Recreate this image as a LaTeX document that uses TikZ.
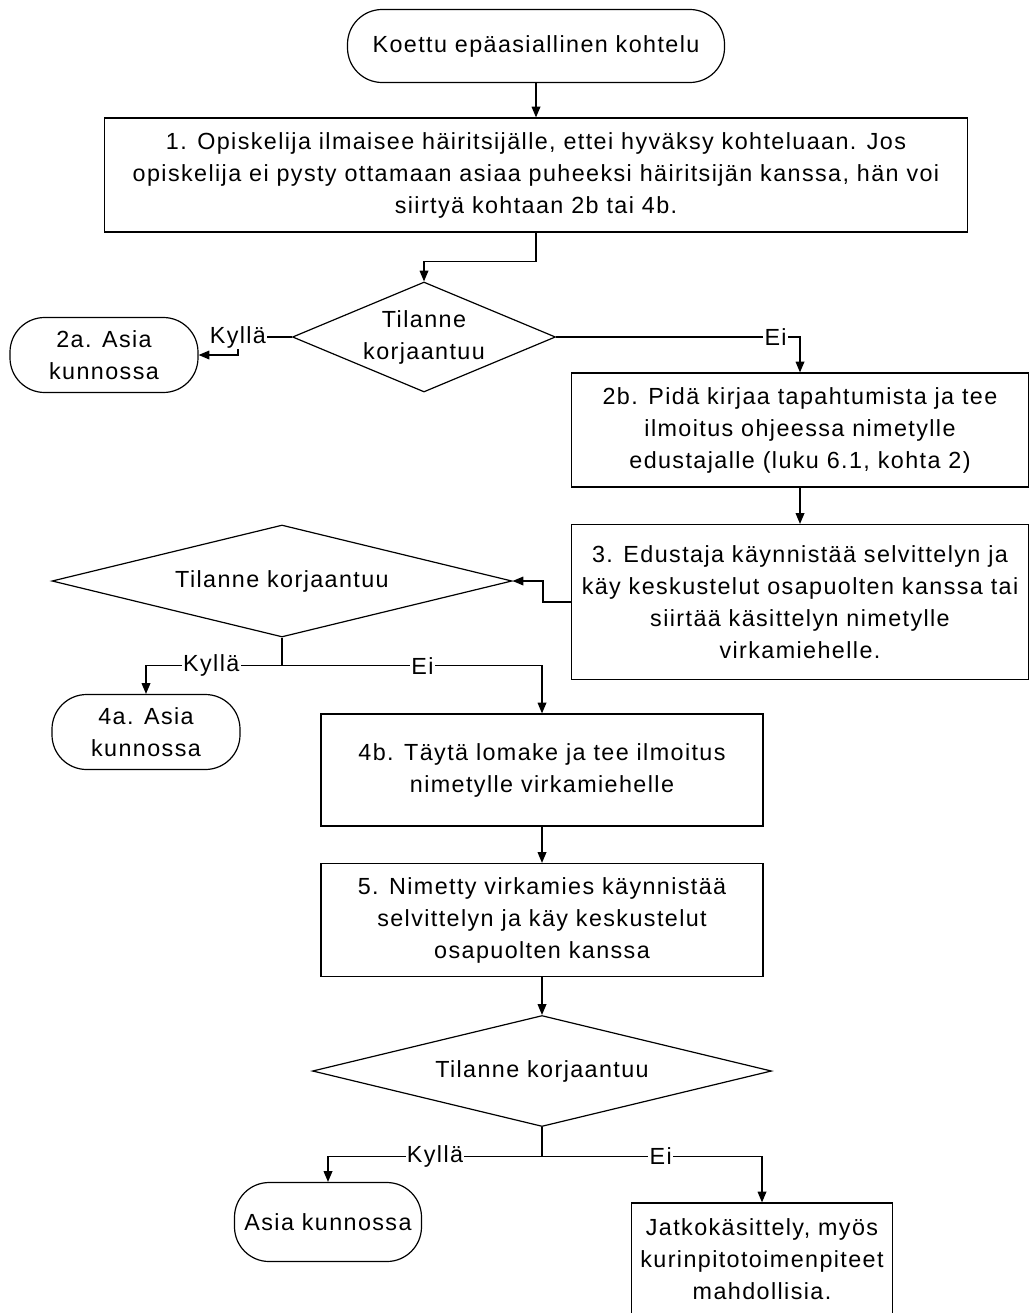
\documentclass[tikz,border=0pt]{standalone}
\usepackage{fontspec}
\setmainfont{Liberation Sans}[LetterSpace=6]
\usepackage{tikz}
\usetikzlibrary{shapes.geometric}
\usetikzlibrary{arrows.meta}

\begin{document}
\begin{tikzpicture}[x=0.75pt, y=-0.75pt, line width=0.9pt,
    every node/.style={font=\fontsize{17.5}{24}\selectfont},
    term/.style={draw, rectangle, rounded corners=26pt, align=center, inner sep=0pt},
    box/.style={draw, rectangle, align=center, inner sep=0pt},
    decision/.style={draw, diamond, inner sep=0pt},
    arr/.style={-{Triangle[length=8pt,width=6.5pt]}},
    lbl/.style={fill=white, inner sep=1pt}]
    \useasboundingbox (0,0) rectangle (1030,1313);

    % Start and first step
    \node[term, minimum width=282.75pt, minimum height=54.75pt] (start) at (536,46)
        {Koettu epäasiallinen kohtelu};
    \node[box, minimum width=647.25pt, minimum height=85.5pt] (b1) at (536,175)
        {1. Opiskelija ilmaisee häiritsijälle, ettei hyväksy kohteluaan. Jos\\
         opiskelija ei pysty ottamaan asiaa puheeksi häiritsijän kanssa, hän voi\\
         siirtyä kohtaan 2b tai 4b.};

    % First decision
    \node[decision, minimum width=197.25pt, minimum height=82.5pt,
        label={[align=center]center:Tilanne\\korjaantuu}] (d1) at (424,337) {};
    \node[term, minimum width=141pt, minimum height=56.25pt] (t2a) at (104,355)
        {2a. Asia\\kunnossa};
    \node[box, minimum width=342.75pt, minimum height=85.5pt] (b2b) at (800,430)
        {2b. Pidä kirjaa tapahtumista ja tee\\
         ilmoitus ohjeessa nimetylle\\
         edustajalle (luku 6.1, kohta 2)};
    \node[box, minimum width=342.75pt, minimum height=116.25pt] (b3) at (800,602)
        {3. Edustaja käynnistää selvittelyn ja\\
         käy keskustelut osapuolten kanssa tai\\
         siirtää käsittelyn nimetylle\\
         virkamiehelle.};

    % Second decision
    \node[decision, minimum width=345pt, minimum height=84pt,
        label={center:Tilanne korjaantuu}] (d2) at (282,581) {};
    \node[term, minimum width=141pt, minimum height=56.25pt] (t4a) at (146,732)
        {4a. Asia\\kunnossa};
    \node[box, minimum width=331.5pt, minimum height=84pt] (b4b) at (542,770)
        {4b. Täytä lomake ja tee ilmoitus\\nimetylle virkamiehelle};
    \node[box, minimum width=331.5pt, minimum height=84.75pt] (b5) at (542,920)
        {5. Nimetty virkamies käynnistää\\
         selvittelyn ja käy keskustelut\\
         osapuolten kanssa};

    % Third decision
    \node[decision, minimum width=344.25pt, minimum height=83.25pt,
        label={center:Tilanne korjaantuu}] (d3) at (542,1071) {};
    \node[term, minimum width=140.25pt, minimum height=59.25pt] (tend) at (328,1222)
        {Asia kunnossa};
    \node[box, minimum width=195.75pt, minimum height=84pt] (bend) at (762,1259)
        {Jatkokäsittely, myös\\kurinpitotoimenpiteet\\mahdollisia.};

    % Connectors
    \draw[arr] (start) -- (b1);
    \draw[arr] (b1.south) -- ++(0,29) -| (d1.north);
    \draw[arr] (d1.west) -- ++(-54,0) node[lbl]{Kyllä} |- (t2a.east);
    \draw[arr] (d1.east) -| (b2b.north) node[lbl, pos=0.45]{Ei};
    \draw[arr] (b2b) -- (b3);
    \draw[arr] (b3.west) -- ++(-28,0) |- (d2.east);

    \draw (d2.south) -- ++(0,28) coordinate (s2);
    \draw[arr] (s2) -| (t4a.north) node[lbl, pos=0.26]{Kyllä};
    \draw[arr] (s2) -| (b4b.north) node[lbl, pos=0.27]{Ei};
    \draw[arr] (b4b) -- (b5);
    \draw[arr] (b5) -- (d3);

    \draw (d3.south) -- ++(0,29) coordinate (s3);
    \draw[arr] (s3) -| (tend.north) node[lbl, pos=0.25]{Kyllä};
    \draw[arr] (s3) -| (bend.north) node[lbl, pos=0.27]{Ei};
\end{tikzpicture}
\end{document}
